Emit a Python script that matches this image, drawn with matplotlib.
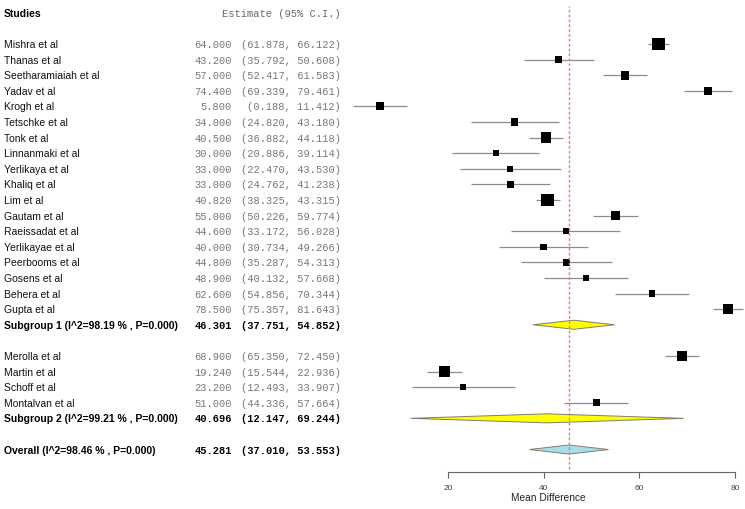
import numpy as np
import matplotlib
matplotlib.use("Agg")
import matplotlib.pyplot as plt
from matplotlib.patches import Polygon

# study level data
group1_names = ["Mishra et al", "Thanas et al", "Seetharamiaiah et al", "Yadav et al",
                "Krogh et al", "Tetschke et al", "Tonk et al", "Linnanmaki et al",
                "Yerlikaya et al", "Khaliq et al", "Lim et al", "Gautam et al",
                "Raeissadat et al", "Yerlikayae et al", "Peerbooms et al", "Gosens et al",
                "Behera et al", "Gupta et al"]
group1_est = [64.0, 43.2, 57.0, 74.4, 5.8, 34.0, 40.5, 30.0, 33.0, 33.0,
              40.82, 55.0, 44.6, 40.0, 44.8, 48.9, 62.6, 78.5]
group1_lo = [61.878, 35.792, 52.417, 69.339, 0.188, 24.820, 36.882, 20.886, 22.470,
             24.762, 38.325, 50.226, 33.172, 30.734, 35.287, 40.132, 54.856, 75.357]
group1_hi = [66.122, 50.608, 61.583, 79.461, 11.412, 43.180, 44.118, 39.114, 43.530,
             41.238, 43.315, 59.774, 56.028, 49.266, 54.313, 57.668, 70.344, 81.643]
group1_w = [10.1, 3.2, 5.2, 4.6, 4.1, 3.2, 7.1, 2.7, 2.3, 3.2,
            10.1, 4.6, 2.3, 2.7, 2.7, 2.7, 2.7, 7.1]

group2_names = ["Merolla et al", "Martin et al", "Schoff et al", "Montalvan et al"]
group2_est = [68.9, 19.24, 23.2, 51.0]
group2_lo = [65.350, 15.544, 12.493, 44.336]
group2_hi = [72.450, 22.936, 33.907, 57.664]
group2_w = [6.4, 7.1, 2.3, 3.6]

sub_labels = ["Subgroup 1 (I^2=98.19 % , P=0.000)", "Subgroup 2 (I^2=99.21 % , P=0.000)"]
sub_est = [46.301, 40.696]
sub_lo = [37.751, 12.147]
sub_hi = [54.852, 69.244]

overall_label = "Overall (I^2=98.46 % , P=0.000)"
overall_est = 45.281
overall_lo = 37.010
overall_hi = 53.553

xticks = [20, 40, 60, 80]

NAME_FONT = "Liberation Sans"
MONO_FONT = "Liberation Mono"


def ci_text(lo, hi):
    return "(%.3f, %.3f)" % (lo, hi)


def diamond(ax, est, lo, hi, y, color):
    h = 0.29
    poly = Polygon([[lo, y], [est, y - h], [hi, y], [est, y + h]], closed=True,
                   facecolor=color, edgecolor="#7f7f6a", linewidth=0.7, zorder=3)
    ax.add_patch(poly)


fig = plt.figure(figsize=(7.45, 5.1), dpi=100)
ax = fig.add_axes([0, 37 / 510, 1, 473 / 510])

# x scale: 20 -> 448 px, 80 -> 735 px
ppu = (735 - 448) / 60.0
ax.set_xlim(20 - 448 / ppu, 80 + (745 - 735) / ppu)
ax.set_ylim(27.44, -2.885)

tr = ax.get_yaxis_transform()
x_name, x_est, x_ci = 4 / 745, 232 / 745, 341 / 745
fs = 7.5

ax.text(x_name, -2, "Studies", transform=tr, ha="left", va="center",
        fontsize=fs, fontweight="bold", family=NAME_FONT)
ax.text(x_ci, -2, "Estimate (95% C.I.)", transform=tr, ha="right", va="center",
        fontsize=fs, color="#666666", family=MONO_FONT)


def study_rows(names, est, lo, hi, w, start):
    ys = np.arange(len(names)) + start
    for y, n, e, l, h in zip(ys, names, est, lo, hi):
        ax.text(x_name, y, n, transform=tr, ha="left", va="center",
                fontsize=fs, color="#111111", family=NAME_FONT)
        ax.text(x_est, y, "%.3f" % e, transform=tr, ha="right", va="center",
                fontsize=fs, color="#777777", family=MONO_FONT)
        ax.text(x_ci, y, ci_text(l, h), transform=tr, ha="right", va="center",
                fontsize=fs, color="#777777", family=MONO_FONT)
    ax.hlines(ys, lo, hi, color="#8c8c8c", linewidth=0.9, zorder=2)
    sizes = (3.93 * np.sqrt(np.array(w)) * 0.72) ** 2
    ax.scatter(est, ys, s=sizes, marker="s", color="black", linewidths=0, zorder=4)
    return ys[-1]


def summary_row(label, est, lo, hi, y, color):
    ax.text(x_name, y, label, transform=tr, ha="left", va="center",
            fontsize=fs, fontweight="bold", family=NAME_FONT)
    ax.text(x_est, y, "%.3f" % est, transform=tr, ha="right", va="center",
            fontsize=fs, fontweight="bold", family=MONO_FONT)
    ax.text(x_ci, y, ci_text(lo, hi), transform=tr, ha="right", va="center",
            fontsize=fs, fontweight="bold", family=MONO_FONT)
    diamond(ax, est, lo, hi, y, color)


last = study_rows(group1_names, group1_est, group1_lo, group1_hi, group1_w, 0)
summary_row(sub_labels[0], sub_est[0], sub_lo[0], sub_hi[0], last + 1, "#ffff00")
last = study_rows(group2_names, group2_est, group2_lo, group2_hi, group2_w, last + 3)
summary_row(sub_labels[1], sub_est[1], sub_lo[1], sub_hi[1], last + 1, "#ffff00")
summary_row(overall_label, overall_est, overall_lo, overall_hi, last + 3, "#a6dfea")

ax.axvline(overall_est, ymin=0.006, ymax=0.985, color="#f07878",
           linestyle=(0, (2, 1.5)), linewidth=1.0, zorder=5)

for side in ["top", "left", "right"]:
    ax.spines[side].set_visible(False)
ax.spines["bottom"].set_bounds(xticks[0], xticks[-1])
ax.spines["bottom"].set_color("#666666")
ax.spines["bottom"].set_linewidth(0.8)
ax.set_yticks([])
ax.set_xticks(xticks)
ax.set_xticklabels([str(t) for t in xticks], fontsize=6, color="#444444",
                   family=NAME_FONT)
ax.tick_params(axis="x", length=4, width=0.8, color="#666666", pad=5)
ax.text(548 / 745, -25 / 473, "Mean Difference", transform=ax.transAxes,
        ha="center", va="center", fontsize=7.3, color="#222222", family=NAME_FONT)
ax.patch.set_visible(False)

fig.savefig("out.png", dpi=100)
